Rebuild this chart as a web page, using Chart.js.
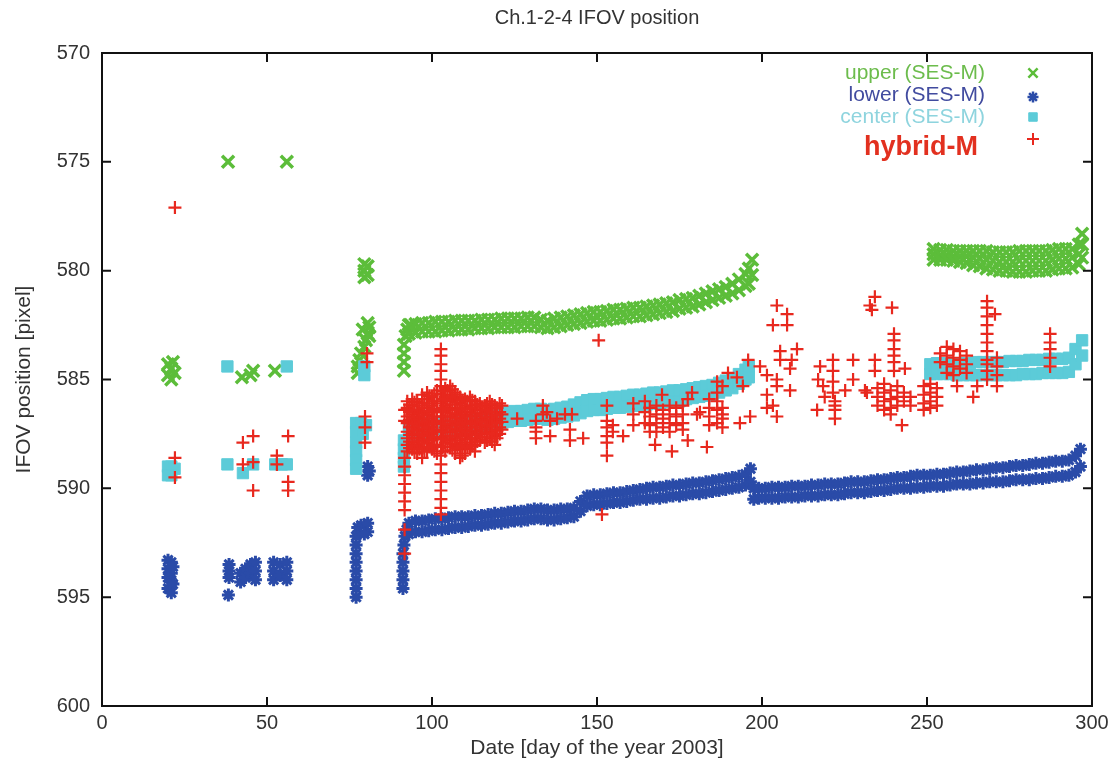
<!DOCTYPE html>
<html lang="en">
<head>
<meta charset="UTF-8">
<title>Ch.1-2-4 IFOV position</title>
<script src="https://cdn.jsdelivr.net/npm/chart.js"></script>
<style>
  body { margin: 0; background: #fff; }
  #wrap { width: 1115px; height: 771px; position: relative; }
</style>
</head>
<body>
<div id="wrap"><canvas id="ifovChart"></canvas></div>
<script>
// ---- data (x = day of 2003, y = IFOV position in pixels) ----
const chartTitle = 'Ch.1-2-4 IFOV position';
const seriesLabels = ['upper (SES-M)', 'lower (SES-M)', 'center (SES-M)', 'hybrid-M'];
const xTicks = [0, 50, 100, 150, 200, 250, 300];
const yTicks = [570, 575, 580, 585, 590, 595, 600];

// upper (SES-M): isolated early points
const upperDay = [20, 20, 21, 21.5, 22, 21, 38.2, 56, 42.4, 45.8, 45, 52.4,
  79.5, 79.5, 79.5, 80.5, 80.5, 80.5, 81, 80.5, 80, 79.5, 78.5, 78, 77.5, 77.5, 79, 81,
  91.5, 91.5, 91.5, 91.5, 92, 92.5, 93.5];
const upperPos = [584.3, 584.8, 584.5, 584.2, 584.7, 585.0, 575.0, 575.0, 584.9, 584.6, 584.8, 584.6,
  579.7, 580.0, 580.3, 579.8, 580.2, 582.4, 582.6, 582.9, 583.2, 583.5, 583.8, 584.1, 584.4, 584.7, 582.7, 583.0,
  584.6, 584.2, 583.8, 583.4, 583.0, 582.7, 582.5];
// upper (SES-M): band, days 93-197 (top and bottom edge of the band)
const upperBandDay = [93, 95, 97, 99, 101, 103, 105, 107, 109, 111,
  113, 115, 117, 119, 121, 123, 125, 127, 129, 131,
  133, 135, 137, 139, 141, 143, 145, 147, 149, 151,
  153, 155, 157, 159, 161, 163, 165, 167, 169, 171,
  173, 175, 177, 179, 181, 183, 185, 187, 189, 191,
  193, 195, 196, 197];
const upperBandHi = [582.5, 582.45, 582.4, 582.4, 582.35, 582.35, 582.35, 582.3, 582.3, 582.3,
  582.3, 582.25, 582.25, 582.25, 582.2, 582.2, 582.2, 582.2, 582.15, 582.15,
  582.25, 582.3, 582.2, 582.15, 582.1, 582.05, 582.0, 581.95, 581.9, 581.9,
  581.85, 581.8, 581.8, 581.75, 581.7, 581.7, 581.65, 581.6, 581.55, 581.5,
  581.45, 581.35, 581.3, 581.25, 581.15, 581.05, 580.95, 580.85, 580.75, 580.6,
  580.4, 580.15, 579.9, 579.5];
const upperBandLo = [582.9, 582.85, 582.8, 582.8, 582.8, 582.75, 582.75, 582.7, 582.7, 582.7,
  582.65, 582.65, 582.65, 582.6, 582.6, 582.6, 582.6, 582.55, 582.55, 582.55,
  582.6, 582.65, 582.6, 582.55, 582.5, 582.45, 582.4, 582.35, 582.3, 582.3,
  582.25, 582.2, 582.2, 582.15, 582.1, 582.1, 582.05, 582.0, 581.95, 581.9,
  581.85, 581.75, 581.7, 581.65, 581.55, 581.45, 581.35, 581.25, 581.15, 581.05,
  580.9, 580.7, 580.6, 580.2];
// upper (SES-M): band, days 252-297
const upperBand2Day = [252, 254, 256, 258, 260, 262, 264, 266, 268, 270,
  272, 274, 276, 278, 280, 282, 284, 286, 288, 290,
  292, 294, 296, 297];
const upperBand2Hi = [579.0, 579.05, 579.05, 579.1, 579.1, 579.1, 579.1, 579.1, 579.1, 579.15,
  579.15, 579.15, 579.15, 579.1, 579.1, 579.1, 579.1, 579.1, 579.05, 579.0,
  579.0, 579.0, 578.8, 578.3];
const upperBand2Mid = [579.25, 579.3, 579.3, 579.35, 579.35, 579.35, 579.4, 579.45, 579.5, 579.55,
  579.6, 579.6, 579.6, 579.55, 579.55, 579.55, 579.55, 579.55, 579.5, 579.45,
  579.45, 579.4, 579.25, 578.8];
const upperBand2Lo = [579.5, 579.5, 579.5, 579.55, 579.6, 579.65, 579.75, 579.8, 579.9, 579.95,
  580.0, 580.0, 580.05, 580.05, 580.05, 580.0, 580.0, 580.0, 579.95, 579.9,
  579.9, 579.85, 579.7, 579.4];

// lower (SES-M): isolated early points
const lowerDay = [20, 21, 20, 21, 20, 21, 20, 21, 21.5, 21.5,
  38.5, 38.5, 38.5, 38.3,
  42, 42, 43.5, 43.5, 45, 45, 46.5, 46.5, 46.5,
  52, 52, 52, 54, 54, 56, 56, 56,
  77, 77, 77, 77, 77, 77, 77, 77, 77.5, 78.5, 79.5, 80.5, 80.5, 79.5,
  80.5, 80.5, 81,
  91.2, 91.2, 91.2, 91.2, 91.2, 91.5, 91.8, 92.3];
const lowerPos = [593.3, 593.4, 593.7, 593.9, 594.1, 594.3, 594.6, 594.8, 593.6, 594.4,
  593.5, 593.8, 594.1, 594.9,
  593.9, 594.3, 593.7, 594.1, 593.5, 593.9, 593.4, 593.8, 594.2,
  593.4, 593.8, 594.2, 593.5, 594.0, 593.4, 593.8, 594.2,
  595.0, 594.6, 594.2, 593.8, 593.4, 593.0, 592.6, 592.2, 591.8, 591.7, 591.7, 591.6, 592.0, 592.1,
  589.0, 589.4, 589.2,
  594.6, 594.2, 593.8, 593.4, 593.0, 592.6, 592.2, 591.9];
// lower (SES-M): band, days 93-196
const lowerBandDay = [93, 95, 97, 99, 101, 103, 105, 107, 109, 111,
  113, 115, 117, 119, 121, 123, 125, 127, 129, 131,
  133, 135, 137, 139, 141, 143, 145, 147, 149, 151,
  153, 155, 157, 159, 161, 163, 165, 167, 169, 171,
  173, 175, 177, 179, 181, 183, 185, 187, 189, 191,
  193, 195, 196.5];
const lowerBandHi = [591.6, 591.5, 591.5, 591.45, 591.4, 591.4, 591.35, 591.3, 591.3, 591.3,
  591.25, 591.25, 591.2, 591.15, 591.15, 591.1, 591.05, 591.05, 591.0, 590.95,
  590.95, 591.0, 591.0, 590.95, 590.95, 590.9, 590.6, 590.35, 590.3, 590.3,
  590.25, 590.2, 590.2, 590.15, 590.1, 590.05, 590.0, 589.95, 589.95, 589.9,
  589.85, 589.85, 589.8, 589.75, 589.75, 589.7, 589.65, 589.6, 589.55, 589.5,
  589.45, 589.35, 589.1];
const lowerBandLo = [592.1, 592.0, 592.0, 591.95, 591.9, 591.9, 591.85, 591.8, 591.8, 591.75,
  591.7, 591.7, 591.65, 591.6, 591.6, 591.55, 591.5, 591.5, 591.45, 591.4,
  591.4, 591.45, 591.45, 591.4, 591.35, 591.3, 591.05, 590.8, 590.75, 590.75,
  590.7, 590.65, 590.65, 590.6, 590.55, 590.5, 590.5, 590.45, 590.45, 590.4,
  590.35, 590.35, 590.3, 590.25, 590.25, 590.2, 590.15, 590.1, 590.05, 590.0,
  589.95, 589.85, 589.7];
// lower (SES-M): band, days 197-297
const lowerBand2Day = [197.5, 199, 201, 203, 205, 207, 209, 211, 213, 215,
  217, 219, 221, 223, 225, 227, 229, 231, 233, 235,
  237, 239, 241, 243, 245, 247, 249, 251, 253, 255,
  257, 259, 261, 263, 265, 267, 269, 271, 273, 275,
  277, 279, 281, 283, 285, 287, 289, 291, 293, 295,
  296.5];
const lowerBand2Hi = [590.0, 590.0, 590.0, 589.95, 589.95, 589.95, 589.9, 589.9, 589.9, 589.85,
  589.85, 589.8, 589.8, 589.8, 589.75, 589.7, 589.7, 589.7, 589.65, 589.6,
  589.6, 589.55, 589.5, 589.5, 589.45, 589.4, 589.4, 589.4, 589.35, 589.35,
  589.3, 589.25, 589.25, 589.2, 589.15, 589.15, 589.1, 589.05, 589.05, 589.0,
  588.95, 588.95, 588.9, 588.85, 588.85, 588.8, 588.75, 588.75, 588.7, 588.5,
  588.2];
const lowerBand2Lo = [590.5, 590.45, 590.45, 590.45, 590.45, 590.4, 590.4, 590.4, 590.35, 590.35,
  590.35, 590.3, 590.3, 590.3, 590.25, 590.2, 590.2, 590.2, 590.15, 590.1,
  590.1, 590.05, 590.0, 590.0, 590.0, 589.95, 589.95, 589.9, 589.9, 589.9,
  589.85, 589.8, 589.8, 589.8, 589.75, 589.75, 589.7, 589.7, 589.7, 589.65,
  589.6, 589.6, 589.6, 589.55, 589.55, 589.5, 589.45, 589.45, 589.4, 589.25,
  589.0];

// center (SES-M): isolated early points
const centerDay = [20, 21, 22, 20, 21,
  38, 38, 42.7, 45.8, 52.5, 54.5, 56, 56,
  77, 78.5, 80, 77, 79, 77, 77, 77, 77,
  79.5, 79.5,
  91.5, 91.5, 91.5, 91.5];
const centerPos = [589.0, 589.0, 589.1, 589.4, 589.4,
  584.4, 588.9, 589.3, 588.9, 588.9, 588.9, 588.9, 584.4,
  587.0, 587.0, 587.1, 587.4, 587.5, 587.9, 588.3, 588.7, 589.1,
  584.4, 584.8,
  587.8, 588.2, 588.6, 589.0];
// center (SES-M): band, days 93-196
const centerBandDay = [93, 95, 97, 99, 101, 103, 105, 107, 109, 111,
  113, 115, 117, 119, 121, 123, 125, 127, 129, 131,
  133, 135, 137, 139, 141, 143, 145, 147, 149, 151,
  153, 155, 157, 159, 161, 163, 165, 167, 169, 171,
  173, 175, 177, 179, 181, 183, 185, 187, 189, 191,
  193, 195, 196];
const centerBandHi = [587.1, 587.05, 587.05, 587.0, 587.0, 587.0, 586.95, 586.9, 586.9, 586.85,
  586.8, 586.8, 586.7, 586.65, 586.55, 586.5, 586.45, 586.45, 586.4, 586.35,
  586.35, 586.4, 586.35, 586.3, 586.25, 586.15, 586.05, 585.95, 585.9, 585.9,
  585.85, 585.8, 585.8, 585.75, 585.7, 585.7, 585.65, 585.6, 585.6, 585.55,
  585.5, 585.5, 585.45, 585.4, 585.35, 585.3, 585.25, 585.15, 585.05, 584.95,
  584.75, 584.55, 584.4];
const centerBandLo = [587.6, 587.55, 587.55, 587.5, 587.5, 587.45, 587.4, 587.35, 587.35, 587.3,
  587.25, 587.25, 587.15, 587.1, 587.0, 586.95, 586.9, 586.9, 586.85, 586.8,
  586.8, 586.85, 586.8, 586.75, 586.7, 586.65, 586.55, 586.45, 586.4, 586.4,
  586.35, 586.3, 586.3, 586.25, 586.2, 586.2, 586.15, 586.1, 586.1, 586.05,
  586.0, 586.0, 585.9, 585.85, 585.8, 585.75, 585.7, 585.6, 585.5, 585.4,
  585.2, 585.0, 584.9];
// center (SES-M): band, days 251-297
const centerBand2Day = [251, 253, 255, 257, 259, 261, 263, 265, 267, 269,
  271, 273, 275, 277, 279, 281, 283, 285, 287, 289,
  291, 293, 295, 297];
const centerBand2Hi = [584.3, 584.25, 584.25, 584.25, 584.25, 584.25, 584.25, 584.2, 584.2, 584.2,
  584.2, 584.2, 584.15, 584.15, 584.15, 584.1, 584.1, 584.1, 584.05, 584.05,
  584.05, 584.0, 583.6, 583.2];
const centerBand2Lo = [584.75, 584.75, 584.75, 584.75, 584.8, 584.8, 584.8, 584.8, 584.8, 584.8,
  584.8, 584.8, 584.8, 584.8, 584.75, 584.75, 584.75, 584.7, 584.7, 584.7,
  584.7, 584.65, 584.3, 583.9];

// hybrid-M: one list of positions per day
const hybridDay = [22.1, 22.1, 42.7, 45.8, 53, 56.4, 79.7, 80.3, 91.7,
  92.5, 94, 95.5, 97, 98.5, 100, 101.5, 102.7, 104, 105.5,
  107, 108.5, 110, 111.5, 113, 114.5, 116, 117.5, 119, 120.5,
  125.8, 131.5, 133.6, 134.8, 135.8, 137.9, 140.3, 141.8, 142.4, 145.8,
  150.5, 151.5, 153, 154.8, 157.9, 161, 164.5, 166, 167.6, 168,
  169.7, 170, 172, 172.7, 174, 176, 177.5, 178.8, 180.3, 181.2,
  183.3, 184, 186.4, 188, 189.7, 192.4, 193.3, 194.2, 195.8, 196.4,
  199.4, 201.5, 203.3, 204.5, 205.5, 207.6, 208.5, 209, 210.6, 216.7,
  217, 217.6, 218.5, 219, 221.5, 222.1, 225.2, 227.6, 231.2, 231.8,
  232.7, 233.3, 234.2, 235, 237, 239, 239.4, 240, 241, 242.4,
  243, 243.3, 245, 249, 251, 253, 254, 256, 258, 259.1,
  260, 262, 264, 265.2, 268.2, 270.6, 271.2, 287.3];
const hybridPos = [
  [577.1], [588.6, 589.5], [587.9, 588.9], [587.6, 588.8, 590.1], [588.5, 588.9], [587.6, 589.7, 590.1],
  [586.7, 587.2, 587.9], [583.8, 584.2],
  [586.4, 586.9, 588.6, 589.0, 589.4, 589.8, 590.2, 590.6, 591.0, 591.9, 593.0],
  [586.0, 586.3, 586.7, 587.0, 587.4, 587.7, 588.0, 588.3],
  [585.9, 586.2, 586.6, 586.9, 587.2, 587.5, 587.9, 588.2],
  [586.0, 586.4, 586.7, 587.0, 587.3, 587.7, 588.0, 588.4],
  [585.7, 586.1, 586.5, 586.8, 587.1, 587.4, 587.8, 588.1, 588.6],
  [585.6, 585.9, 586.3, 586.6, 587.0, 587.3, 587.6, 587.9, 588.3],
  [585.8, 586.2, 586.5, 586.9, 587.2, 587.5, 587.8, 588.2],
  [585.5, 586.0, 586.4, 586.7, 587.0, 587.4, 587.7, 588.0, 588.4],
  [583.6, 583.9, 584.3, 584.6, 585.0, 585.3, 585.7, 586.1, 586.5, 586.9, 587.3, 587.7, 588.1, 588.5,
   588.9, 589.3, 589.7, 590.1, 590.5, 590.9, 591.2],
  [585.4, 585.8, 586.2, 586.5, 586.9, 587.2, 587.6, 587.9, 588.3],
  [585.3, 585.7, 586.0, 586.4, 586.7, 587.1, 587.4, 587.8, 588.1],
  [585.6, 585.9, 586.3, 586.6, 587.0, 587.3, 587.7, 588.0, 588.4],
  [585.8, 586.1, 586.5, 586.8, 587.2, 587.5, 587.9, 588.2, 588.6],
  [585.9, 586.2, 586.6, 586.9, 587.3, 587.6, 588.0, 588.4],
  [585.8, 586.2, 586.5, 586.9, 587.2, 587.5, 587.9, 588.2],
  [586.0, 586.4, 586.7, 587.0, 587.4, 587.7, 588.0, 588.3],
  [586.1, 586.4, 586.8, 587.1, 587.5, 587.8],
  [586.2, 586.5, 586.9, 587.2, 587.5, 587.9],
  [586.0, 586.3, 586.7, 587.0, 587.4, 587.7],
  [586.2, 586.6, 586.9, 587.3, 587.6, 588.0],
  [586.1, 586.5, 586.8, 587.2, 587.5],
  [586.8], [586.9, 587.2, 587.4, 587.7], [586.2, 586.6], [586.5], [586.9, 587.6], [586.8], [586.6],
  [587.3, 587.8], [586.6], [587.7],
  [583.2], [591.2], [586.2, 586.9, 587.2, 587.6, 587.9, 588.5], [587.1, 587.4], [587.6],
  [586.1, 586.6, 587.1], [586.0, 586.5, 587.0], [586.3, 586.7, 587.1, 587.4], [588.0], [586.2, 586.6, 587.0, 587.4],
  [585.7], [586.4, 586.8, 587.2], [586.2, 586.6, 587.0, 587.4], [588.3], [586.3, 586.7, 587.1],
  [586.2, 586.6, 587.0, 587.3], [585.9, 587.8], [585.6], [586.6], [586.5],
  [588.1], [585.9, 586.3, 586.7, 587.1], [585.1, 585.6, 586.0, 586.4, 587.0], [585.3, 586.3, 586.6, 586.8, 587.2],
  [584.7], [584.9], [587.0], [585.3], [584.1], [586.7],
  [584.4], [584.8, 585.7, 586.3], [582.5, 586.2], [581.6, 585.0, 585.3, 586.7], [583.7, 584.1], [582.0, 582.5],
  [584.5, 585.5], [584.1], [583.6], [586.4],
  [585.0], [584.4], [585.3], [585.8], [584.1, 584.6, 585.1, 585.6], [586.0, 586.2, 586.4, 586.8], [585.5],
  [584.1, 585.0], [585.5], [585.6],
  [581.6], [581.8], [581.2, 584.1, 584.6], [585.4, 585.8, 586.2], [585.2, 585.6, 586.0, 586.4],
  [585.5, 585.9, 586.3, 586.6], [581.7], [582.9, 583.2, 583.6, 583.9, 584.2, 584.6], [585.3, 585.8, 586.2], [587.1],
  [585.6, 586.0], [584.5], [585.8, 586.2], [585.3, 585.7, 586.1, 586.4], [585.2, 585.6, 586.0, 586.3],
  [585.4, 585.8, 586.2], [583.8, 584.2], [583.5, 583.9, 584.3, 584.7], [583.6, 584.0, 584.4, 584.8], [585.3],
  [583.7, 584.1, 584.5], [583.9, 584.3, 584.7], [585.8], [585.3],
  [581.4, 581.7, 582.1, 582.5, 582.9, 583.3, 583.7, 584.1, 584.3, 584.6, 585.0],
  [582.0], [584.0, 584.4, 584.8, 585.3], [582.9, 583.3, 583.6, 584.0, 584.4]
];
// hybrid-M: the dense cloud between days 92 and 122
const hybridDenseDay = [93.2, 94.7, 96.2, 97.7, 99.2, 100.7, 103.3, 104.7, 106.2, 107.7,
  109.2, 110.7, 112.2, 113.7, 115.2, 116.7, 118.2, 119.7, 121.2];
const hybridDensePos = [
  [586.15, 586.5, 586.85, 587.2, 587.55, 587.85, 588.15],
  [586.05, 586.4, 586.75, 587.05, 587.35, 587.7, 588.05, 588.35],
  [586.2, 586.55, 586.85, 587.15, 587.5, 587.85, 588.2],
  [585.9, 586.3, 586.65, 586.95, 587.25, 587.6, 587.95, 588.3],
  [585.75, 586.1, 586.45, 586.8, 587.15, 587.45, 587.75, 588.1],
  [585.65, 586.0, 586.35, 586.7, 587.05, 587.35, 587.65, 588.0, 588.3],
  [585.55, 585.9, 586.3, 586.7, 587.05, 587.4, 587.75, 588.1],
  [585.5, 585.95, 586.35, 586.7, 587.05, 587.4, 587.75, 588.1],
  [585.45, 585.8, 586.15, 586.55, 586.9, 587.25, 587.6, 587.95, 588.25],
  [585.7, 586.05, 586.4, 586.75, 587.1, 587.4, 587.8, 588.15],
  [585.95, 586.3, 586.65, 587.0, 587.35, 587.7, 588.05, 588.5],
  [586.0, 586.35, 586.7, 587.05, 587.4, 587.75, 588.1],
  [585.95, 586.3, 586.65, 587.05, 587.35, 587.7, 588.05],
  [586.15, 586.55, 586.85, 587.2, 587.55, 587.85],
  [586.25, 586.6, 586.95, 587.3, 587.65],
  [586.1, 586.4, 586.75, 587.1, 587.45, 587.8],
  [586.15, 586.5, 586.85, 587.15, 587.5, 587.85],
  [586.3, 586.65, 587.0, 587.35, 587.7],
  [586.2, 586.6, 586.95, 587.3]
];

// ---- build point lists from the arrays ----
function pairPoints(days, pos) {
  return days.map((d, i) => ({ x: d, y: pos[i] }));
}
function bandPoints(days, rows) {
  const pts = [];
  days.forEach((d, i) => rows.forEach(r => pts.push({ x: d, y: r[i] })));
  return pts;
}
function listPoints(days, lists) {
  const pts = [];
  days.forEach((d, i) => lists[i].forEach(p => pts.push({ x: d, y: p })));
  return pts;
}

const upperPoints = pairPoints(upperDay, upperPos)
  .concat(bandPoints(upperBandDay, [upperBandHi, upperBandLo]))
  .concat(bandPoints(upperBand2Day, [upperBand2Hi, upperBand2Mid, upperBand2Lo]));
const lowerPoints = pairPoints(lowerDay, lowerPos)
  .concat(bandPoints(lowerBandDay, [lowerBandHi, lowerBandLo]))
  .concat(bandPoints(lowerBand2Day, [lowerBand2Hi, lowerBand2Lo]));
const centerPoints = pairPoints(centerDay, centerPos)
  .concat(bandPoints(centerBandDay, [centerBandHi, centerBandLo]))
  .concat(bandPoints(centerBand2Day, [centerBand2Hi, centerBand2Lo]));
const hybridPoints = listPoints(hybridDay, hybridPos)
  .concat(listPoints(hybridDenseDay, hybridDensePos));

const greenCol = '#5cbd3a';
const blueCol = '#2a4ba8';
const cyanCol = '#5ccbd8';
const redCol = '#e8281e';
const sansFont = "'Liberation Sans', Arial, sans-serif";
const textCol = '#333';

// title centred over the plot box, frame with inward ticks on all four sides
const frameTicks = {
  id: 'frameTicks',
  afterDatasetsDraw(chart) {
    const { ctx, chartArea: a, scales: { x, y } } = chart;
    ctx.save();
    ctx.fillStyle = textCol;
    ctx.font = '20px ' + sansFont;
    ctx.textAlign = 'center';
    ctx.textBaseline = 'middle';
    ctx.fillText(chartTitle, (a.left + a.right) / 2, 18);

    ctx.strokeStyle = '#111';
    ctx.lineWidth = 2;
    ctx.strokeRect(a.left, a.top, a.right - a.left, a.bottom - a.top);
    ctx.beginPath();
    xTicks.forEach(v => {
      const px = x.getPixelForValue(v);
      ctx.moveTo(px, a.bottom); ctx.lineTo(px, a.bottom - 9);
      ctx.moveTo(px, a.top); ctx.lineTo(px, a.top + 9);
    });
    yTicks.forEach(v => {
      const py = y.getPixelForValue(v);
      ctx.moveTo(a.left, py); ctx.lineTo(a.left + 9, py);
      ctx.moveTo(a.right, py); ctx.lineTo(a.right - 9, py);
    });
    ctx.stroke();
    ctx.restore();
  }
};

// key in the upper right corner: right-aligned label, sample marker after it
const keyBox = {
  id: 'keyBox',
  afterDatasetsDraw(chart) {
    const ctx = chart.ctx;
    const rows = [
      { ds: 0, color: '#6cbc4c', font: '21px ' + sansFont, tx: 985, ty: 73, my: 73, r: 6.5, w: 2.5 },
      { ds: 1, color: '#414b9f', font: '21px ' + sansFont, tx: 985, ty: 95, my: 97, r: 5.5, w: 2.5 },
      { ds: 2, color: '#8ed4de', font: '21px ' + sansFont, tx: 985, ty: 117, my: 117, r: 6, w: 1 },
      { ds: 3, color: '#e2301f', font: 'bold 27px ' + sansFont, tx: 978, ty: 148, my: 139, r: 6, w: 2 }
    ];
    ctx.save();
    rows.forEach(r => {
      const ds = chart.data.datasets[r.ds];
      ctx.font = r.font;
      ctx.fillStyle = r.color;
      ctx.textAlign = 'right';
      ctx.textBaseline = 'middle';
      ctx.fillText(seriesLabels[r.ds], r.tx, r.ty);
      ctx.fillStyle = ds.pointBackgroundColor;
      ctx.strokeStyle = ds.pointBorderColor;
      ctx.lineWidth = r.w;
      Chart.helpers.drawPoint(ctx, {
        pointStyle: ds.pointStyle, radius: r.r, borderWidth: r.w, rotation: 0
      }, 1033, r.my);
    });
    ctx.restore();
  }
};

new Chart(document.getElementById('ifovChart'), {
  type: 'scatter',
  data: {
    datasets: [
      { label: seriesLabels[0], data: upperPoints, order: 3, pointStyle: 'crossRot', pointRadius: 8.5,
        pointBorderWidth: 3.5, pointBorderColor: greenCol, pointBackgroundColor: greenCol },
      { label: seriesLabels[1], data: lowerPoints, order: 2, pointStyle: 'star', pointRadius: 6.5,
        pointBorderWidth: 3, pointBorderColor: blueCol, pointBackgroundColor: blueCol },
      { label: seriesLabels[2], data: centerPoints, order: 1, pointStyle: 'rect', pointRadius: 8,
        pointBorderWidth: 1, pointBorderColor: cyanCol, pointBackgroundColor: cyanCol },
      { label: seriesLabels[3], data: hybridPoints, order: 0, pointStyle: 'cross', pointRadius: 6.5,
        pointBorderWidth: 2.2, pointBorderColor: redCol, pointBackgroundColor: redCol }
    ]
  },
  options: {
    responsive: true,
    maintainAspectRatio: false,
    animation: false,
    events: [],
    layout: { padding: { left: 0, right: 23, top: 53, bottom: 0 } },
    plugins: {
      legend: { display: false },
      tooltip: { enabled: false },
      title: { display: false }
    },
    scales: {
      x: {
        type: 'linear',
        min: 0, max: 300,
        afterBuildTicks: s => { s.ticks = xTicks.map(v => ({ value: v })); },
        ticks: { color: textCol, font: { family: sansFont, size: 20 }, padding: 5 },
        grid: { display: false, drawTicks: false },
        border: { display: false },
        title: { display: true, text: 'Date [day of the year 2003]', color: textCol,
          font: { family: sansFont, size: 21 }, padding: { top: 0, bottom: 10 } },
        afterFit: s => { s.height = 65; }
      },
      y: {
        type: 'linear',
        reverse: true,
        min: 570, max: 600,
        afterBuildTicks: s => { s.ticks = yTicks.map(v => ({ value: v })); },
        ticks: { color: textCol, font: { family: sansFont, size: 20 }, padding: 12 },
        grid: { display: false, drawTicks: false },
        border: { display: false },
        title: { display: true, text: 'IFOV position [pixel]', color: textCol,
          font: { family: sansFont, size: 21 }, padding: { top: 12, bottom: 0 } },
        afterFit: s => { s.width = 102; }
      }
    }
  },
  plugins: [frameTicks, keyBox]
});
</script>
</body>
</html>
